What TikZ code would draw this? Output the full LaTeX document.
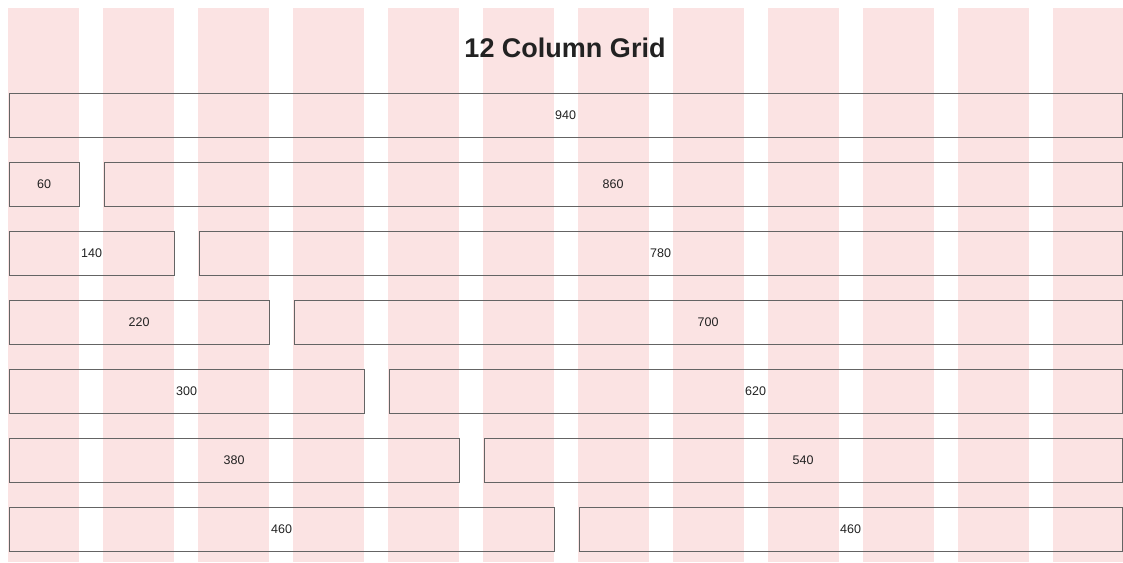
\documentclass[tikz,border=0pt]{standalone}
\usepackage{fontspec}
\setmainfont{Liberation Sans}
\definecolor{colpink}{RGB}{251,227,227}
\definecolor{boxline}{RGB}{100,100,100}
\definecolor{txt}{RGB}{34,34,34}
\tikzset{
  gridcol/.style={fill=colpink},
  spanbox/.style={draw=boxline, line width=1.1pt, inner sep=0pt, anchor=north west,
    minimum height=44pt, text=txt, font=\fontsize{12.5}{14}\selectfont},
  title/.style={text=txt, font=\fontsize{27}{30}\selectfont\bfseries, inner sep=0pt}
}
\begin{document}
\begin{tikzpicture}[x=1pt,y=-1pt]
\useasboundingbox (0,0) rectangle (1123,562);
\foreach \i in {0,...,11} {
  \fill[gridcol] ({8+95*\i},8) rectangle ({79+95*\i},562);
}
\node[title] (t) at (565,48) {12 Column Grid};
\node[spanbox, minimum width=1113pt] (r0) at (8.5,93) {940};
\foreach \k/\a/\b in {1/60/860,2/140/780,3/220/700,4/300/620,5/380/540,6/460/460} {
  \node[spanbox, minimum width={95*\k-25}] (l\k) at (8.5,{93+69*\k}) {\a};
  \node[spanbox, minimum width={1113-95*\k}] (r\k) at ({8.5+95*\k},{93+69*\k}) {\b};
}
\end{tikzpicture}
\end{document}
